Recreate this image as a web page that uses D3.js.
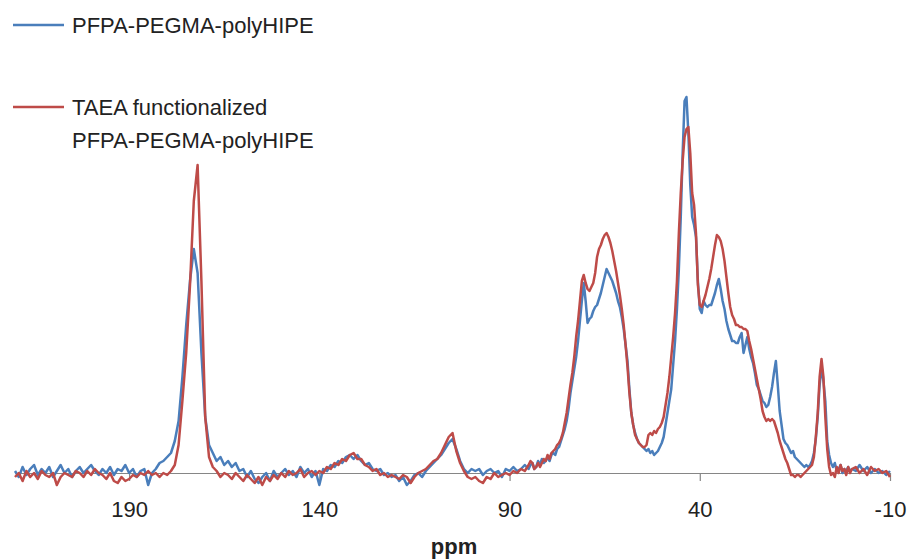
<!DOCTYPE html>
<html>
<head>
<meta charset="utf-8">
<title>13C NMR spectra</title>
<script src="https://cdnjs.cloudflare.com/ajax/libs/d3/7.8.5/d3.min.js"></script>
<style>
  body { margin: 0; background: #fff; }
  svg { font-family: "Liberation Sans", Arial, sans-serif; }
  .axis text { font-size: 22px; fill: #222; }
  .axis path, .axis line { stroke: #868686; stroke-width: 1.2; }
</style>
</head>
<body>
<svg width="911" height="560"></svg>
<script>
// chemical shift grid (ppm): 1 ppm steps, 0.5 ppm through the aliphatic region
var ppmHigh = d3.range(220, 85.5, -1);     // 220 .. 86
var ppmMid = d3.range(85, 0.25, -0.5);     // 85 .. 0.5
var ppmLow = d3.range(0, -10.5, -1);       // 0 .. -10
var ppm = ppmHigh.concat(ppmMid, ppmLow);

var tickValues = [190, 140, 90, 40, -10];
var seriesNames = ['PFPA-PEGMA-polyHIPE', 'TAEA functionalized PFPA-PEGMA-polyHIPE'];

// PFPA-PEGMA-polyHIPE
var blue = [
  // 220 .. 86
  0.5, -1, 1.5, -0.5, 1, 2, -0.5, 1, 0, 1.5,
  -1, 0.5, 2, 0, 1, -1, 0.5, 1.5, 0, 1,
  2, 0.5, -0.5, 1, 0, 1.5, -0.5, 1, 0.5, 2,
  0, 1, -1, 0.5, 1, -3, 0, 1, 2.5, 3,
  4, 5, 8, 13, 24, 37, 48, 56, 50, 30,
  14, 7, 5, 3, 4, 2, 3, 1.5, 2.5, 0.5,
  1, -1, 0.5, -1.5, -2.5, -1, 0, -2, 0.5, -1,
  0, 1, -0.5, 0.5, -1, 1.5, 0, 1, -1, 0.5,
  -3, 1, 0.5, 2, 1.5, 3, 2.5, 4, 4.5, 3.5,
  4.5, 3, 2, 2.5, 1, 0.5, 1, -0.5, 0, -1,
  -0.5, -2, -1, -3, -2, -0.5, 0, -1, 0.5, 1.5,
  2.5, 3.5, 4.5, 6, 7.5, 8.5, 6, 3, 1, 0,
  1, 0.5, 1, -0.5, 0.5, 1, 0, 0.5, -1, 1,
  0.5, 1.5, 0.5, 1, 2,
  // 85 .. 0.5
  1, 2, 2.5, 1, 1.5, 3, 2, 3.5, 2.5, 3,
  4, 3, 4.5, 5, 4.5, 6, 6.5, 8, 9.5, 11,
  13, 16, 20, 23, 26, 29, 33, 38, 43, 47.5,
  43, 37.5, 38.5, 39, 40.5, 41.5, 42, 43.5, 45, 47,
  49, 51, 50, 49, 48, 46.5, 45, 43, 41.5, 39,
  36, 32, 28, 21, 15, 12, 10, 8.5, 7.5, 7,
  6.5, 6, 5.5, 6, 5, 5.5, 4.5, 5, 5.5, 6.5,
  7.5, 9, 12, 15, 18, 21, 27, 33, 41, 51,
  64, 80, 93, 94, 85, 72, 64, 62, 59, 48,
  41, 40, 43, 42, 41.5, 42, 42, 43.5, 45, 47,
  48.5, 46, 43, 41, 38, 36, 34.5, 33, 33, 32.5,
  32.5, 34, 35, 30, 32, 34, 31, 29, 27.5, 25,
  22, 21, 19.5, 18, 17.5, 16.5, 17, 19, 21.5, 25,
  28, 22, 15.5, 12, 8.5, 7.5, 7, 6, 5, 5.5,
  4, 3.5, 3, 2.5, 2, 1.5, 2, 1.5, 2, 3,
  5, 8.5, 14, 22, 26.5, 23, 18, 8, 4.5, 2.5,
  1.5, 2.5, 0.5, 1, 2, 0, 1, 0.5, 1.5, 0.5,
  // 0 .. -10
  1, 0.5, 2, 0.5, 1.5, 0, 1, 0, 0.5, -0.5, 0.5
];

// TAEA functionalized PFPA-PEGMA-polyHIPE
var red = [
  // 220 .. 86
  -1, 0, -2, 0.5, -1, 0, -1.5, 0.5, -0.5, -1,
  0, -3, -1, 0, -0.5, -1, 0.5, 0, -1, 0.5,
  -0.5, 1, 0, -0.5, -1.5, 0, -2, -2.5, -1, -2,
  -1.5, -0.5, -1, 0, -0.5, 0.5, -0.5, 0, -1, 0,
  -0.5, 0.5, 2, 7, 18, 30, 47, 68, 77, 48,
  14, 4, 1.5, 0.5, -1, 0, -0.5, -1.5, 0, -1,
  -2, -0.5, -1.5, -2.5, -1, -3, -1, -2, -0.5, -1.5,
  0, -1, 0.5, -0.5, 0, 1, -1, 0, 0.5, -0.5,
  0.5, 0, 1.5, 1, 2.5, 2, 3.5, 3, 4.5, 5,
  3.5, 3.5, 2, 1.5, 0.5, 1, -0.5, 0, -1, -0.5,
  -1, -1.5, -0.5, -1, -2.5, -1, 0, 0.5, 1, 2,
  3, 3.5, 5, 7, 9, 10, 5.5, 2.5, 0.5, -1,
  -1.5, -1, -2, -2.5, -1, -1.5, 0, -1, -0.5, 0,
  -0.5, 0.5, 0, 1, 0.5,
  // 85 .. 0.5
  2, 3, 2.5, 1, 1.5, 2.5, 1.5, 2.5, 3.5, 3,
  4.5, 3.5, 5, 5.5, 6, 7, 7.5, 8.5, 10, 12.5,
  15, 18.5, 22, 25, 29, 34, 38, 43, 48, 49.5,
  47.5, 46, 45.5, 46.5, 47.5, 50, 54, 56, 57, 58.5,
  59.5, 60, 59, 57.5, 55.5, 53, 50.5, 47.5, 44.5, 41,
  37, 32, 26.5, 20, 15, 12, 9.5, 8.5, 7.5, 7,
  6.5, 6.5, 7, 9.5, 10, 9.5, 10.5, 10, 11, 11.5,
  12.5, 14, 17, 20, 24, 29, 34, 40, 48, 60,
  70, 78, 84, 86, 86.5, 80, 70, 67, 60, 47,
  42, 41.5, 43, 44.5, 46.5, 48.5, 51, 54, 57, 59.5,
  59, 58, 56, 53, 49, 45, 41.5, 39.5, 38.5, 37,
  37, 36.5, 36.5, 36, 36, 35.5, 33, 31, 28.5, 26,
  23.5, 21, 18.5, 15.5, 14, 13, 13.5, 13, 13.5, 13,
  11.5, 10, 8, 6.5, 5, 3.5, 2.5, 1, -0.5, -0.5,
  -1, -0.5, -0.5, -1, -0.5, 0, 0.5, 1, 1.5, 2,
  4, 9, 15, 24, 28.5, 24, 14, 6, 1.5, -0.5,
  0, -1, 1.5, 0, 2, 0.5, 1, -0.5, 1.5, 0,
  // 0 .. -10
  1, 1.5, 0, 1, -0.5, 1.5, 0.5, 1, 0, 0.5, -1
];

var colors = ['#4A7EBB', '#BE4B48'];

var svg = d3.select('svg');

var x = d3.scaleLinear().domain([220, -10]).range([15, 890]);
var y = d3.scaleLinear().domain([0, 100]).range([473, 73]);

var xAxis = d3.axisBottom(x)
  .tickValues(tickValues)
  .tickSize(8)
  .tickSizeOuter(0)
  .tickPadding(20)
  .tickFormat(function(d) { return String(d); });

svg.append('g')
  .attr('class', 'axis')
  .attr('transform', 'translate(0,' + y(0) + ')')
  .call(xAxis)
  .selectAll('text')
  .attr('font-family', null);

svg.append('text')
  .attr('x', 454)
  .attr('y', 554)
  .attr('text-anchor', 'middle')
  .style('font-size', '22px')
  .style('font-weight', 'bold')
  .style('fill', '#222')
  .text('ppm');

var line = d3.line()
  .x(function(d, i) { return x(ppm[i]); })
  .y(function(d) { return y(d); });

svg.selectAll('path.series')
  .data([blue, red])
  .enter()
  .append('path')
  .attr('class', 'series')
  .attr('fill', 'none')
  .attr('stroke', function(d, i) { return colors[i]; })
  .attr('stroke-width', 2.5)
  .attr('stroke-linejoin', 'round')
  .attr('d', line);

// legend
var legend = svg.append('g');
var legendRows = [
  { y: 25, lines: [seriesNames[0]] },
  { y: 107, lines: ['TAEA functionalized', 'PFPA-PEGMA-polyHIPE'] }
];

legendRows.forEach(function(row, i) {
  legend.append('line')
    .attr('x1', 13).attr('x2', 64)
    .attr('y1', row.y).attr('y2', row.y)
    .attr('stroke', colors[i])
    .attr('stroke-width', 2.5);
  row.lines.forEach(function(t, j) {
    legend.append('text')
      .attr('x', 72)
      .attr('y', row.y + 8 + j * 32.5)
      .style('font-size', '22px')
      .style('fill', '#222')
      .text(t);
  });
});
</script>
</body>
</html>
